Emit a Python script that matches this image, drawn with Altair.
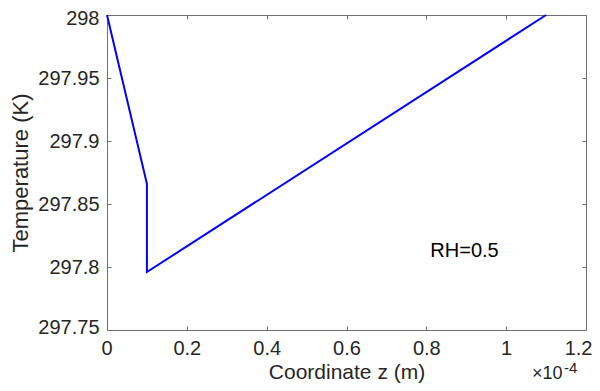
import altair as alt
import pandas as pd

# data (z in units of 1e-4 m)
z_1e4 = [0.0, 0.1, 0.1, 1.1]
temp_K = [298.0, 297.866, 297.796, 298.0]
x_ticks = [0, 0.2, 0.4, 0.6, 0.8, 1.0, 1.2]
y_ticks = [297.75, 297.8, 297.85, 297.9, 297.95, 298.0]
note_text = ["RH=0.5"]
note_x = [0.81]
note_y = [297.808]

df = pd.DataFrame({"z": z_1e4, "T": temp_K, "order": list(range(len(z_1e4)))})
notes = pd.DataFrame({"x": note_x, "y": note_y, "label": note_text})

FONT = "Liberation Sans"
AX = "#6e6e6e"
TXT = "#262626"

xscale = alt.Scale(domain=[0, 1.2], nice=False, zero=False)
yscale = alt.Scale(domain=[297.75, 298], nice=False, zero=False)

common_axis = dict(grid=False, domain=False, tickSize=4, offset=-4, tickColor=AX,
                   tickWidth=1, labelFont=FONT, labelFontSize=20, labelColor=TXT,
                   titleFont=FONT, titleFontWeight="normal",
                   titleColor=TXT, labelOverlap=False)

line = alt.Chart(df).mark_line(color="#0000ff", strokeWidth=2).encode(
    x=alt.X("z:Q", scale=xscale,
            axis=alt.Axis(values=x_ticks, format="~g", title="Coordinate z (m)",
                          orient="bottom", labelPadding=8, titlePadding=3,
                          titleFontSize=21, labelFlush=True, labelFlushOffset=6,
                          **common_axis)),
    y=alt.Y("T:Q", scale=yscale,
            axis=alt.Axis(values=y_ticks, format="~g", title="Temperature (K)",
                          orient="left", labelPadding=8, titlePadding=5,
                          titleFontSize=22, labelFlush=True, labelFlushOffset=7,
                          **common_axis)),
    order="order:Q",
)

frame = alt.Chart(df).mark_line(strokeOpacity=0).encode(
    x=alt.X("z:Q", scale=xscale,
            axis=alt.Axis(values=x_ticks, orient="top", labels=False, title=None,
                          labelFlush=False, **common_axis)),
    y=alt.Y("T:Q", scale=yscale,
            axis=alt.Axis(values=y_ticks, orient="right", labels=False, title=None,
                          labelFlush=False, **common_axis)),
    order="order:Q",
)

note = alt.Chart(notes).mark_text(align="left", baseline="alphabetic", font=FONT,
                                  fontSize=20, color="#000000").encode(
    x=alt.X("x:Q", scale=xscale, axis=None),
    y=alt.Y("y:Q", scale=yscale, axis=None),
    text="label:N",
)

exp_base = alt.Chart(pd.DataFrame({"t": ["×10"]})).mark_text(
    align="left", baseline="alphabetic", font=FONT, fontSize=18, color=TXT
).encode(x=alt.value(425), y=alt.value(364), text="t:N")

exp_pow = alt.Chart(pd.DataFrame({"t": ["-4"]})).mark_text(
    align="left", baseline="alphabetic", font=FONT, fontSize=15, color=TXT
).encode(x=alt.value(457), y=alt.value(358), text="t:N")

chart = alt.layer(line, frame, note, exp_base, exp_pow).resolve_axis(
    x="independent", y="independent"
).properties(
    width=479, height=315,
    autosize=alt.AutoSizeParams(type="none"),
    padding={"left": 99, "top": 7, "right": 6, "bottom": 53},
).configure_view(stroke=AX, strokeWidth=1)

chart.save("out.html", embed_options={"renderer": "svg", "actions": False})
